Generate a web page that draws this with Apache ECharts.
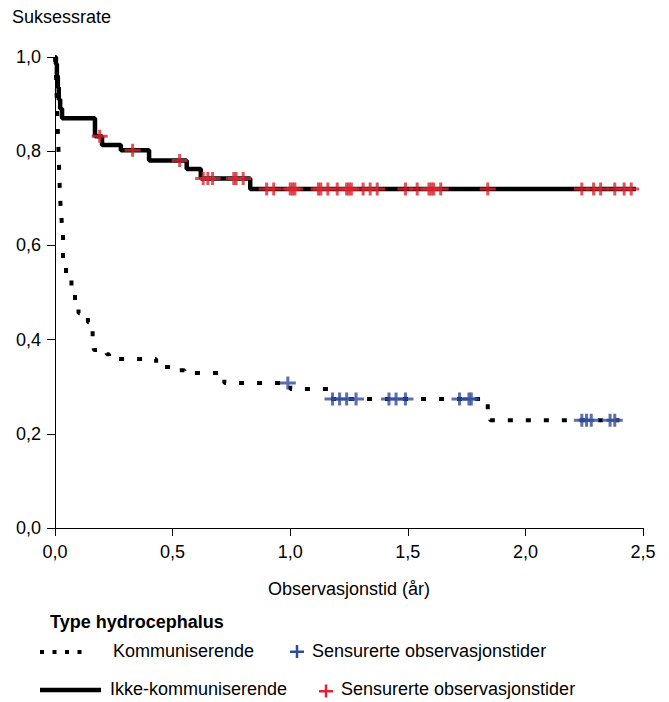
<!DOCTYPE html>
<html>
<head>
<meta charset="utf-8">
<script src="https://cdn.jsdelivr.net/npm/echarts@6/dist/echarts.min.js"></script>
<style>
html,body{margin:0;padding:0;background:#fff;}
#chart{width:669px;height:702px;}
</style>
</head>
<body>
<div id="chart"></div>
<script>
// ---- Data ----
const xTickLabels = ['0,0','0,5','1,0','1,5','2,0','2,5'];
const yTickLabels = ['0,0','0,2','0,4','0,6','0,8','1,0'];

// Ikke-kommuniserende (solid) Kaplan-Meier steps
const ikkeTimes = [0, 0.004, 0.008, 0.012, 0.016, 0.022, 0.03, 0.17, 0.20, 0.28, 0.40, 0.56, 0.62, 0.83, 2.47];
const ikkeSurv  = [1, 0.985, 0.96, 0.935, 0.91, 0.89, 0.87, 0.832, 0.813, 0.802, 0.78, 0.762, 0.742, 0.72, 0.72];

// Kommuniserende (dotted) Kaplan-Meier steps
const komTimes = [0, 0.003, 0.005, 0.007, 0.009, 0.011, 0.013, 0.015, 0.017, 0.019, 0.021, 0.024, 0.028, 0.030, 0.034, 0.047, 0.070, 0.085, 0.10, 0.11, 0.14, 0.16, 0.165, 0.22, 0.23, 0.43, 0.53, 0.55, 0.72, 1.00, 1.17, 1.84, 1.85, 2.40];
const komSurv  = [1, 0.975, 0.95, 0.92, 0.89, 0.86, 0.83, 0.80, 0.77, 0.74, 0.71, 0.68, 0.655, 0.635, 0.563, 0.535, 0.499, 0.467, 0.456, 0.448, 0.437, 0.405, 0.378, 0.369, 0.359, 0.342, 0.335, 0.329, 0.308, 0.295, 0.274, 0.25, 0.229, 0.229];

// Censored observations (Ikke-kommuniserende, red)
const ikkeCensTimes = [0.19, 0.33, 0.53, 0.63, 0.65, 0.67, 0.76, 0.77, 0.80, 0.90, 0.93, 1.00, 1.01, 1.02, 1.12, 1.13, 1.16, 1.20, 1.24, 1.25, 1.26, 1.31, 1.34, 1.37, 1.49, 1.54, 1.59, 1.60, 1.61, 1.64, 1.84, 2.24, 2.29, 2.32, 2.38, 2.42, 2.45];
const ikkeCensSurv  = [0.832, 0.802, 0.78, 0.742, 0.742, 0.742, 0.742, 0.742, 0.742, 0.72, 0.72, 0.72, 0.72, 0.72, 0.72, 0.72, 0.72, 0.72, 0.72, 0.72, 0.72, 0.72, 0.72, 0.72, 0.72, 0.72, 0.72, 0.72, 0.72, 0.72, 0.72, 0.72, 0.72, 0.72, 0.72, 0.72, 0.72];

// Censored observations (Kommuniserende, blue)
const komCensTimes = [0.99, 1.18, 1.21, 1.24, 1.28, 1.42, 1.45, 1.49, 1.72, 1.76, 1.77, 2.24, 2.26, 2.28, 2.36, 2.38];
const komCensSurv  = [0.308, 0.274, 0.274, 0.274, 0.274, 0.274, 0.274, 0.274, 0.274, 0.274, 0.274, 0.229, 0.229, 0.229, 0.229, 0.229];

// ---- Chart ----
const FONT = '"Liberation Sans", Arial, sans-serif';
const RED = '#dc2530';
const BLUE = '#2f4b9b';
const PLUS = 'path://M0,5L6.5,5L6.5,0L9.5,0L9.5,5L16,5L16,8L9.5,8L9.5,13L6.5,13L6.5,8L0,8Z';

const zip = (a, b) => a.map((v, i) => [v, b[i]]);

const chart = echarts.init(document.getElementById('chart'), null, {renderer: 'svg'});
chart.setOption({
  animation: false,
  backgroundColor: '#fff',
  grid: {left: 55, right: 26, top: 57, bottom: 174, containLabel: false},
  xAxis: {
    type: 'value', min: 0, max: 2.5, interval: 0.5,
    name: 'Observasjonstid (år)', nameLocation: 'middle', nameGap: 52,
    nameTextStyle: {fontFamily: FONT, fontSize: 18, color: '#000'},
    axisLine: {show: true, onZero: false, lineStyle: {color: '#000', width: 1}},
    axisTick: {show: true, length: 8, lineStyle: {color: '#000'}},
    axisLabel: {fontFamily: FONT, fontSize: 18, color: '#000', margin: 15,
      formatter: v => xTickLabels[Math.round(v / 0.5)]},
    splitLine: {show: false}
  },
  yAxis: {
    type: 'value', min: 0, max: 1, interval: 0.2,
    name: 'Suksessrate', nameLocation: 'end', nameGap: 31,
    nameTextStyle: {fontFamily: FONT, fontSize: 18, color: '#000', align: 'left', padding: [0, 0, 0, -43]},
    axisLine: {show: true, onZero: false, lineStyle: {color: '#000', width: 1}},
    axisTick: {show: true, length: 8, lineStyle: {color: '#000'}},
    axisLabel: {fontFamily: FONT, fontSize: 18, color: '#000', margin: 14,
      formatter: v => yTickLabels[Math.round(v / 0.2)]},
    splitLine: {show: false}
  },
  series: [
    {
      name: 'Ikke-kommuniserende', type: 'line', step: 'end',
      data: zip(ikkeTimes, ikkeSurv), showSymbol: false, symbol: 'none',
      lineStyle: {color: '#000', width: 4.5}, z: 2
    },
    {
      name: 'Kommuniserende', type: 'line', step: 'end',
      data: zip(komTimes, komSurv), showSymbol: false, symbol: 'none',
      lineStyle: {color: '#000', width: 4, type: [5, 13], cap: 'butt'}, z: 2
    },
    {
      name: 'Sensurerte observasjonstider (Ikke-kommuniserende)', type: 'scatter',
      data: zip(ikkeCensTimes, ikkeCensSurv), symbol: PLUS, symbolSize: [16, 13],
      itemStyle: {color: RED}, z: 3
    },
    {
      name: 'Sensurerte observasjonstider (Kommuniserende)', type: 'scatter',
      data: zip(komCensTimes, komCensSurv), symbol: PLUS, symbolSize: [16, 13],
      itemStyle: {color: BLUE}, z: 3
    }
  ],
  graphic: [
    {type: 'text', left: 50, top: 613, style: {text: 'Type hydrocephalus', font: 'bold 18px ' + FONT, fill: '#000'}},
    {type: 'line', shape: {x1: 40, y1: 652, x2: 82, y2: 652}, style: {stroke: '#000', lineWidth: 4, lineDash: [4, 8.5]}},
    {type: 'text', left: 113, top: 642, style: {text: 'Kommuniserende', font: '18px ' + FONT, fill: '#000'}},
    {type: 'rect', shape: {x: 290, y: 650.5, width: 14, height: 2.5}, style: {fill: BLUE}},
    {type: 'rect', shape: {x: 295.75, y: 645, width: 2.5, height: 13}, style: {fill: BLUE}},
    {type: 'text', left: 312, top: 642, style: {text: 'Sensurerte observasjonstider', font: '18px ' + FONT, fill: '#000'}},
    {type: 'line', shape: {x1: 40, y1: 690, x2: 101, y2: 690}, style: {stroke: '#000', lineWidth: 4.5}},
    {type: 'text', left: 110, top: 680, style: {text: 'Ikke-kommuniserende', font: '18px ' + FONT, fill: '#000'}},
    {type: 'rect', shape: {x: 319, y: 690, width: 14, height: 2.5}, style: {fill: RED}},
    {type: 'rect', shape: {x: 324.75, y: 684.5, width: 2.5, height: 13}, style: {fill: RED}},
    {type: 'text', left: 341, top: 680, style: {text: 'Sensurerte observasjonstider', font: '18px ' + FONT, fill: '#000'}}
  ]
});
</script>
</body>
</html>
